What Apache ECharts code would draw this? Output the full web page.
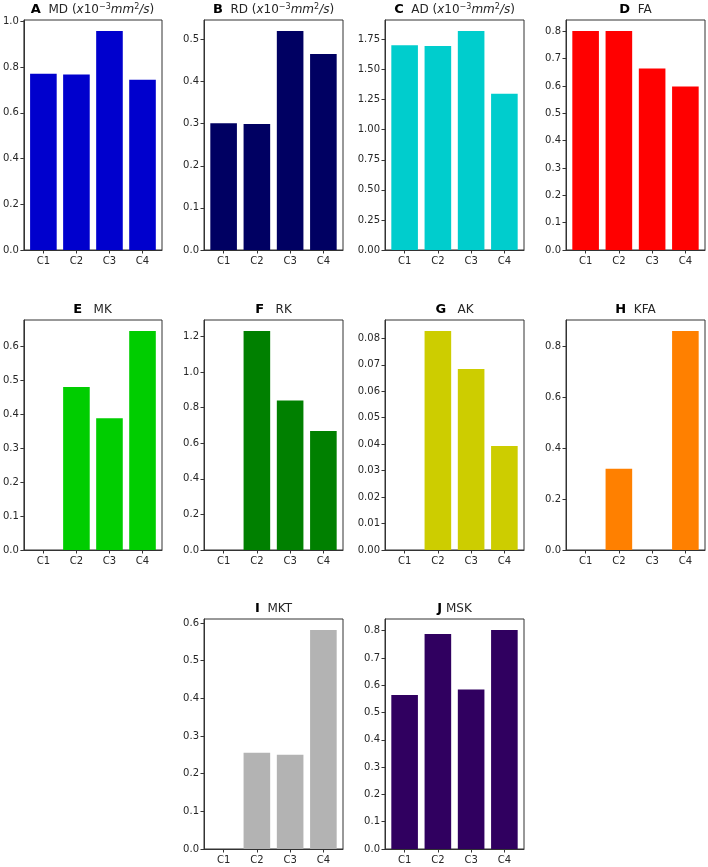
<!DOCTYPE html>
<html><head><meta charset="utf-8">
<script src="https://cdn.jsdelivr.net/npm/echarts@6/dist/echarts.min.js"></script>
<style>html,body{margin:0;padding:0;background:#fff}#c{width:708px;height:867px}</style>
</head><body><div id="c"></div>
<script>
const categories = ['C1', 'C2', 'C3', 'C4'];
const mdValues  = [0.771, 0.767, 0.958, 0.745];
const rdValues  = [0.301, 0.299, 0.520, 0.465];
const adValues  = [1.703, 1.695, 1.821, 1.298];
const faValues  = [0.801, 0.801, 0.664, 0.598];
const mkValues  = [0, 0.480, 0.388, 0.645];
const rkValues  = [0, 1.230, 0.840, 0.668];
const akValues  = [0, 0.0828, 0.0684, 0.0393];
const kfaValues = [0, 0.319, 0, 0.859];
const mktValues = [0, 0.2555, 0.250, 0.5815];
const mskValues = [0.5645, 0.788, 0.584, 0.8025];

const panels = [
  {vals: mdValues,  color: '#0000cd', step: 0.2,  dec: 1, col: 0, row: 0, title: '{b|A}  MD ({i|x}10{s|−3}{i|mm}{s|2}{i|/s})'},
  {vals: rdValues,  color: '#000062', step: 0.1,  dec: 1, col: 1, row: 0, title: '{b|B}  RD ({i|x}10{s|−3}{i|mm}{s|2}{i|/s})'},
  {vals: adValues,  color: '#00cdcd', step: 0.25, dec: 2, col: 2, row: 0, title: '{b|C}  AD ({i|x}10{s|−3}{i|mm}{s|2}{i|/s})'},
  {vals: faValues,  color: '#ff0000', step: 0.1,  dec: 1, col: 3, row: 0, title: '{b|D}  FA'},
  {vals: mkValues,  color: '#00cd00', step: 0.1,  dec: 1, col: 0, row: 1, title: '{b|E}   MK'},
  {vals: rkValues,  color: '#008000', step: 0.2,  dec: 1, col: 1, row: 1, title: '{b|F}   RK'},
  {vals: akValues,  color: '#cdcd00', step: 0.01, dec: 2, col: 2, row: 1, title: '{b|G}   AK'},
  {vals: kfaValues, color: '#ff8000', step: 0.2,  dec: 1, col: 3, row: 1, title: '{b|H}  KFA'},
  {vals: mktValues, color: '#b3b3b3', step: 0.1,  dec: 1, col: 1, row: 2, title: '{b|I}  MKT'},
  {vals: mskValues, color: '#300060', step: 0.1,  dec: 1, col: 2, row: 2, title: '{b|J} MSK'}
];

const colLeft = [23, 204, 385, 566];
const rowTop = [20, 320, 619];
const W = 139, H = 230;
const XMIN = -0.59, XMAX = 3.59;
const FONT = 'DejaVu Sans';
const AX = '#333333';

const grid = [], xAxis = [], yAxis = [], series = [], graphic = [];
panels.forEach((p, i) => {
  const left = colLeft[p.col], top = rowTop[p.row];
  grid.push({left: left, top: top, width: W, height: H, show: true, borderColor: AX, borderWidth: 1, backgroundColor: 'transparent'});
  const ymax = Math.max(...p.vals) * 1.05;
  const yt = [];
  for (let k = 0; k * p.step <= ymax + 1e-9; k++) yt.push(+(k * p.step).toFixed(6));
  xAxis.push({
    type: 'value', gridIndex: i, min: XMIN, max: XMAX, z: 5,
    splitLine: {show: false},
    axisLine: {show: true, onZero: false, lineStyle: {color: AX, width: 1}},
    axisTick: {show: true, length: 3.5, lineStyle: {color: AX}, customValues: [0, 1, 2, 3]},
    axisLabel: {customValues: [0, 1, 2, 3], formatter: v => categories[Math.round(v)], fontSize: 10, color: '#262626', fontFamily: FONT, margin: 6}
  });
  yAxis.push({
    type: 'value', gridIndex: i, min: 0, max: ymax, z: 5,
    splitLine: {show: false},
    axisLine: {show: true, onZero: false, lineStyle: {color: AX, width: 1}},
    axisTick: {show: true, length: 3.5, lineStyle: {color: AX}, customValues: yt},
    axisLabel: {customValues: yt, formatter: v => v.toFixed(p.dec), fontSize: 10, color: '#262626', fontFamily: FONT, margin: 5}
  });
  series.push({
    type: 'bar', xAxisIndex: i, yAxisIndex: i,
    data: p.vals.map((v, k) => [k, v]),
    barWidth: 0.8 * W / (XMAX - XMIN),
    itemStyle: {color: p.color},
    silent: true
  });
  graphic.push({
    type: 'text', x: left + W / 2, y: top - 10,
    style: {
      text: p.title, align: 'center', verticalAlign: 'middle',
      fontSize: 12, fontFamily: FONT, fill: '#262626',
      rich: {
        b: {fontWeight: 'bold', fontSize: 13, fontFamily: FONT, fill: '#000'},
        i: {fontStyle: 'italic', fontSize: 12, fontFamily: FONT, fill: '#262626'},
        s: {fontSize: 8, fontFamily: FONT, fill: '#262626', padding: [0, 0, 7, 0]}
      }
    }
  });
});

const chart = echarts.init(document.getElementById('c'), null, {renderer: 'canvas'});
chart.setOption({animation: false, backgroundColor: '#fff', grid, xAxis, yAxis, series, graphic});
</script>
</body></html>
